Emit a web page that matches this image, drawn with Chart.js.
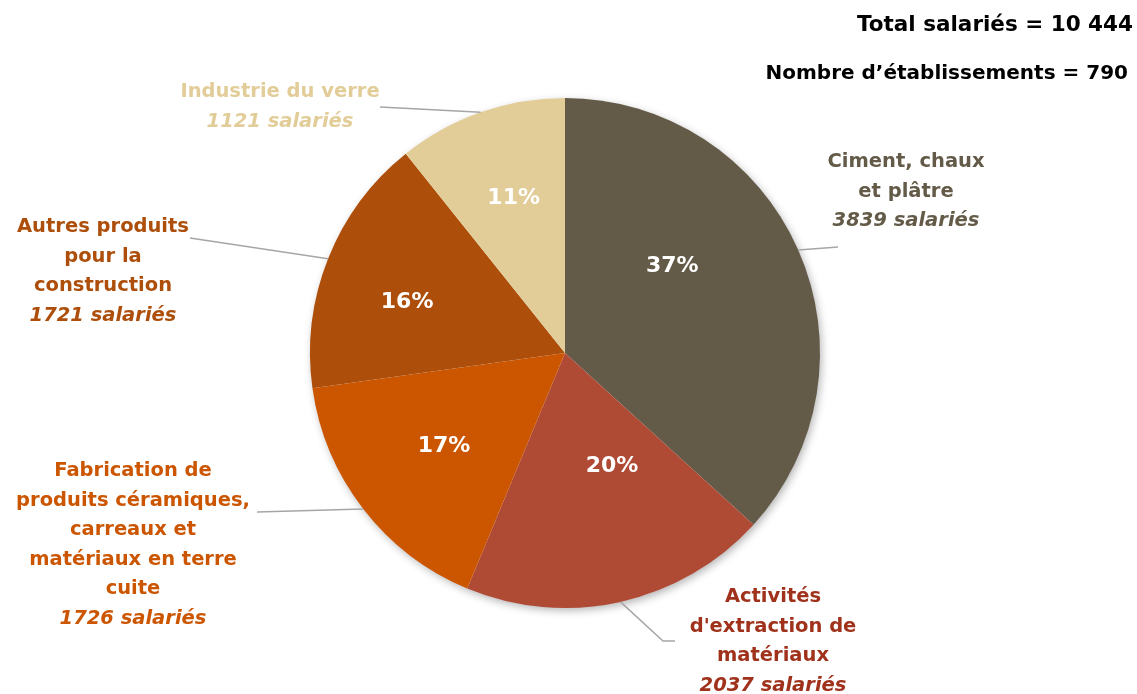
<!DOCTYPE html>
<html>
<head>
<meta charset="utf-8">
<script src="https://cdn.jsdelivr.net/npm/chart.js@4.4.1/dist/chart.umd.min.js"></script>
<style>
  html, body { margin: 0; padding: 0; background: #fff; }
  canvas { display: block; }
</style>
</head>
<body>
<canvas id="c" width="1137" height="694"></canvas>
<script>
// data, clockwise from 12 o'clock
const categories = [
  ["Ciment, chaux", "et plâtre"],
  ["Activités", "d'extraction de", "matériaux"],
  ["Fabrication de", "produits céramiques,", "carreaux et", "matériaux en terre", "cuite"],
  ["Autres produits", "pour la", "construction"],
  ["Industrie du verre"]
];
const salaries = [3839, 2037, 1726, 1721, 1121];
const sliceColors = ["#635A48", "#AF4A35", "#CC5500", "#AD4E0A", "#E2CD99"];
const labelColors = ["#635A48", "#A0321C", "#CC5500", "#AD4E0A", "#E2CD99"];
const totalText = "Total salariés = 10 444";
const etabText = "Nombre d’établissements = 790";

// label placement (layout only)
const labelBoxes = [
  { x: 906, y: 162, end: [[838, 247]] },
  { x: 773, y: 597, end: [[663, 641], [675, 641]] },
  { x: 133, y: 471, end: [[257, 512]] },
  { x: 103, y: 227, end: [[190, 238]] },
  { x: 280, y: 92, end: [[380, 107]] }
];
// [angle shift in degrees, radius fraction] for the percentages
const pctPlace = [[-15, 0.54], [-10, 0.48], [0, 0.6], [-4, 0.65], [1, 0.64]];

const FONT = "'DejaVu Sans', sans-serif";
const LINE = 29.5;

const labelPlugin = {
  id: "labels",
  beforeDatasetsDraw(chart) {
    // soft shadow under the whole pie only
    const ctx = chart.ctx;
    const arc = chart.getDatasetMeta(0).data[0];
    const p = arc.getProps(["x", "y", "outerRadius"], true);
    ctx.save();
    ctx.shadowColor = "rgba(0,0,0,0.3)";
    ctx.shadowBlur = 8;
    ctx.shadowOffsetX = 2;
    ctx.shadowOffsetY = 3;
    ctx.fillStyle = "#ffffff";
    ctx.beginPath();
    ctx.arc(p.x, p.y, p.outerRadius - 0.5, 0, Math.PI * 2);
    ctx.fill();
    ctx.restore();
  },
  afterDatasetsDraw(chart) {
    const ctx = chart.ctx;
    const meta = chart.getDatasetMeta(0);
    const total = salaries.reduce((a, b) => a + b, 0);

    meta.data.forEach((arc, i) => {
      const p = arc.getProps(["x", "y", "startAngle", "endAngle", "outerRadius"], true);
      const mid = (p.startAngle + p.endAngle) / 2;

      // leader line
      ctx.save();
      ctx.strokeStyle = "#A6A6A6";
      ctx.lineWidth = 1.5;
      ctx.beginPath();
      ctx.moveTo(p.x + Math.cos(mid) * p.outerRadius, p.y + Math.sin(mid) * p.outerRadius);
      labelBoxes[i].end.forEach(pt => ctx.lineTo(pt[0], pt[1]));
      ctx.stroke();
      ctx.restore();

      // percentage inside slice
      const a = mid + pctPlace[i][0] * Math.PI / 180;
      const r = p.outerRadius * pctPlace[i][1];
      ctx.save();
      ctx.fillStyle = "#ffffff";
      ctx.font = "bold 22px " + FONT;
      ctx.textAlign = "center";
      ctx.textBaseline = "middle";
      ctx.fillText(Math.round(salaries[i] / total * 100) + "%", p.x + Math.cos(a) * r, p.y + Math.sin(a) * r);
      ctx.restore();

      // category label
      ctx.save();
      ctx.fillStyle = labelColors[i];
      ctx.textAlign = "center";
      ctx.textBaseline = "middle";
      const box = labelBoxes[i];
      const lines = categories[i];
      ctx.font = "bold 19.5px " + FONT;
      lines.forEach((t, k) => ctx.fillText(t, box.x, box.y + k * LINE));
      ctx.font = "italic bold 19.5px " + FONT;
      ctx.fillText(salaries[i] + " salariés", box.x, box.y + lines.length * LINE);
      ctx.restore();
    });

    // totals, top right
    ctx.save();
    ctx.fillStyle = "#000";
    ctx.textAlign = "right";
    ctx.textBaseline = "middle";
    ctx.font = "bold 21.5px " + FONT;
    ctx.fillText(totalText, 1133, 25);
    ctx.font = "bold 20px " + FONT;
    ctx.fillText(etabText, 1128, 74);
    ctx.restore();
  }
};

new Chart(document.getElementById("c"), {
  type: "pie",
  data: {
    labels: categories.map(c => c.join(" ")),
    datasets: [{
      data: salaries,
      backgroundColor: sliceColors,
      borderWidth: 0,
      hoverOffset: 0
    }]
  },
  options: {
    responsive: false,
    animation: false,
    layout: { padding: { left: 310, right: 317, top: 98, bottom: 86 } },
    plugins: {
      legend: { display: false },
      tooltip: { enabled: false }
    }
  },
  plugins: [labelPlugin]
});
</script>
</body>
</html>
